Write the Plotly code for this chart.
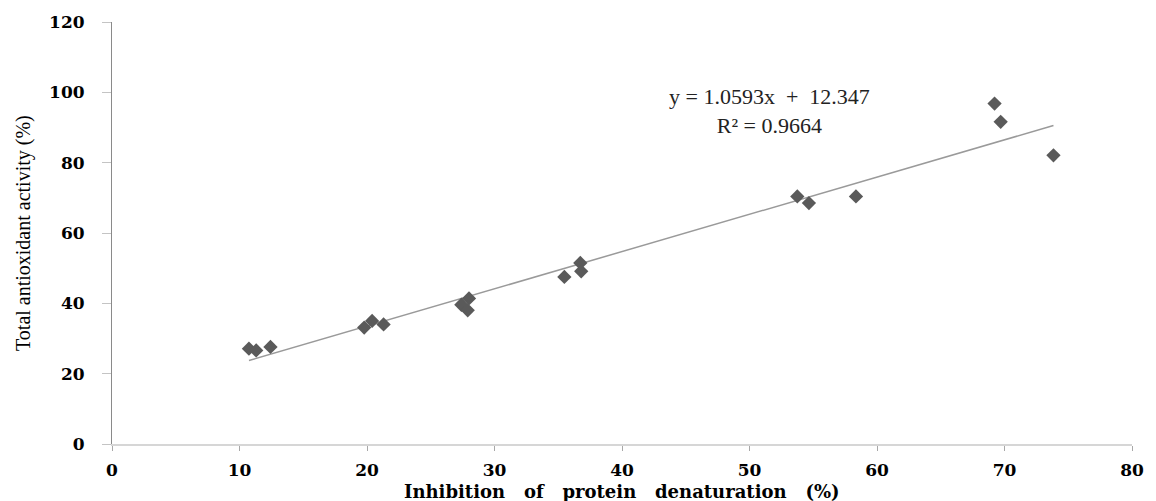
import plotly.graph_objects as go

# Inhibition of protein denaturation (%) vs total antioxidant activity (%)
denaturation = [10.74, 11.31, 12.43, 19.78, 20.4, 21.3, 27.4, 28.0, 27.9,
                35.48, 36.73, 36.8, 53.75, 54.66, 58.35, 69.22, 69.7, 73.84]
antioxidant = [27.1, 26.6, 27.6, 33.1, 35.0, 34.0, 39.6, 41.4, 38.0,
               47.5, 51.5, 49.1, 70.4, 68.5, 70.4, 96.8, 91.6, 82.1]

# Linear trend line coefficients
slope = 1.0593
intercept = 12.347
r_squared = 0.9664

x_ticks = [0, 10, 20, 30, 40, 50, 60, 70, 80]
y_ticks = [0, 20, 40, 60, 80, 100, 120]

x_lo, x_hi = min(denaturation), max(denaturation)
trend_x = [x_lo, x_hi]
trend_y = [slope * v + intercept for v in trend_x]

fig = go.Figure()

fig.add_trace(go.Scatter(
    x=trend_x, y=trend_y, mode="lines",
    line=dict(color="#9a9a9a", width=1.5),
    hoverinfo="skip", showlegend=False,
))

fig.add_trace(go.Scatter(
    x=denaturation, y=antioxidant, mode="markers",
    marker=dict(symbol="diamond", size=11, color="#5a5a5a",
                line=dict(width=0)),
    showlegend=False,
))

tick_font = dict(family="DejaVu Serif", size=17, color="black", weight="bold")

fig.update_xaxes(
    range=[0, 80], tickvals=x_ticks, ticktext=[str(v) for v in x_ticks],
    showgrid=False, zeroline=False,
    showline=True, linecolor="#d6d6d6", linewidth=2,
    ticks="outside", ticklen=5, tickcolor="#a8a8a8", tickwidth=1,
    tickfont=tick_font, ticklabelstandoff=5,
)
fig.update_yaxes(
    range=[0, 120], tickvals=y_ticks, ticktext=[str(v) for v in y_ticks],
    showgrid=False, zeroline=False,
    showline=True, linecolor="#8a8a8a", linewidth=1,
    ticks="outside", ticklen=9, tickcolor="#c4c4c4", tickwidth=1,
    tickfont=tick_font, ticklabelstandoff=14,
)

eq_text = (f"y = {slope}x  +  {intercept}<br>"
           f"R² = {r_squared}")

fig.update_layout(
    width=1156, height=501,
    margin=dict(l=112, r=18, t=22, b=57),
    paper_bgcolor="white", plot_bgcolor="white",
    annotations=[
        dict(text=eq_text, xref="x", yref="y", x=51.6, y=94.6,
             showarrow=False, align="center",
             font=dict(family="Liberation Serif", size=22, color="#222222")),
        dict(text="Total antioxidant activity (%)", xref="paper", yref="paper",
             x=0, y=0.5, xshift=-89, textangle=-90, showarrow=False,
             xanchor="center", yanchor="middle",
             font=dict(family="Liberation Serif", size=20, color="black")),
        dict(text="Inhibition   of   protein   denaturation   (%)",
             xref="paper", yref="paper", x=0.5, y=0, yshift=-47,
             xanchor="center", yanchor="middle", showarrow=False,
             font=dict(family="DejaVu Serif", size=18, color="black",
                       weight="bold")),
    ],
)

fig.write_html("out.html")
